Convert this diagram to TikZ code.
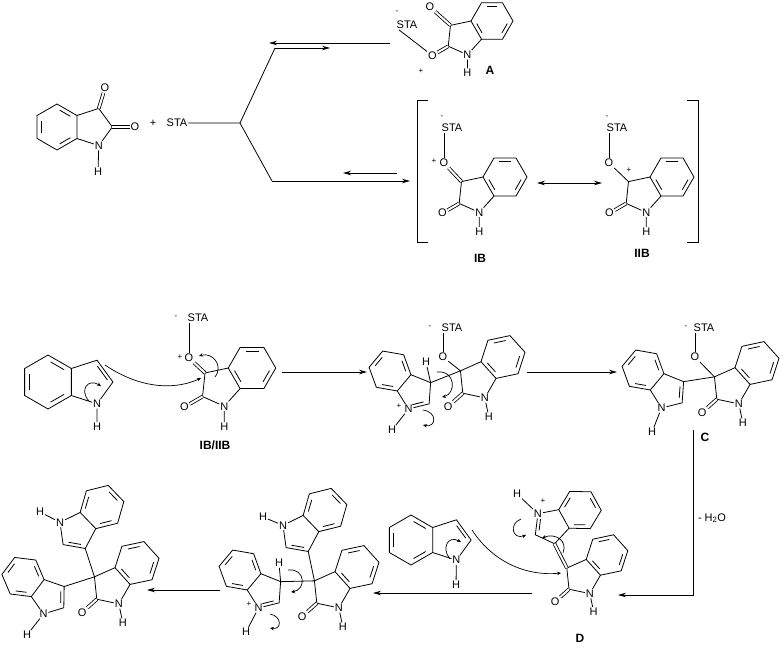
\documentclass[tikz,border=0pt]{standalone}
\usepackage{fontspec}
\setmainfont{Liberation Sans}
\usetikzlibrary{arrows.meta,calc}
\tikzset{>={Stealth[length=8pt,width=4.5pt]}}
\newcommand\chem{\fontsize{11}{12}\selectfont}
\newcommand\dbl[3]{\draw[bond,shorten <=2.5pt,shorten >=2.5pt] ($(#1)!4pt!(#3)$) -- ($(#2)!4pt!(#3)$);}
\tikzset{
  atom/.style={inner sep=0.8pt, font=\chem},
  chg/.style={inner sep=0pt, font=\fontsize{8}{9}\selectfont},
  lbl/.style={inner sep=0pt, font=\fontsize{12}{13}\selectfont\bfseries},
  bond/.style={line width=0.8pt},
  cO/.style={bond, double, double distance=2pt},
  rxn/.style={->, line width=0.8pt},
  curly/.style={->, >={Stealth[length=4pt,width=3.5pt]}, line width=0.7pt},
  oxi/.pic={
    \draw[bond] (0:25) -- (60:25) -- (120:25) -- (180:25) -- (240:25) -- (300:25) -- cycle;
    \foreach \a in {240,0,120} \draw[bond,shorten <=3pt,shorten >=3pt] (\a:20) -- (\a+60:20);
    \coordinate (-c3) at (-49.45,5.2);
    \coordinate (-c2) at (-52.06,30.06);
    \coordinate (-ctr) at (-33.65,19.43);
    \node[atom] (-n) at (-29.22,40.23) {N};
    \node[atom] (-h) at (-29.22,62) {H};
    \node[atom] (-o) at (-71.1,41.1) {O};
    \draw[bond] (180:25) -- (-c3) -- (-c2) -- (-n) -- (120:25);
    \draw[bond] (-n) -- (-h);
    \draw[cO] (-c2) -- (-o);
  },
  ind/.pic={
    \draw[bond] (30:25) -- (90:25) -- (150:25) -- (210:25) -- (270:25) -- (330:25) -- cycle;
    \foreach \a in {150,270,30} \draw[bond,shorten <=3pt,shorten >=3pt] (\a:20) -- (\a+60:20);
    \coordinate (-c3) at (45.4,-20.2);
    \coordinate (-c2) at (60.1,0);
    \coordinate (-ctr) at (38.85,0);
    \node[atom] (-n) at (45.4,20.2) {N};
    \draw[bond] (330:25) -- (-c3) -- (-c2) -- (-n) -- (30:25);
  }
}

\begin{document}
\begin{tikzpicture}[x=1pt,y=-1pt]
  \useasboundingbox (0,0) rectangle (781,649);

  % isatin + STA
  \pic[scale=0.92] (isa) at (57,127) {ind};
  \node[atom] (isaO3) at (105,88) {O};
  \node[atom] (isaO2) at (135,127) {O};
  \node[atom] (isaH) at (98,172) {H};
  \draw[cO] (isa-c3) -- (isaO3);
  \draw[cO] (isa-c2) -- (isaO2);
  \draw[bond] (isa-n) -- (isaH);
  \node[atom] (plus0) at (153,123) {+};
  \node[atom] (sta0) at (177,123) {STA};

  % forked equilibria
  \coordinate (fork) at (240,123);
  \coordinate (forkU) at (275,48);
  \coordinate (forkD) at (272,181);
  \coordinate (eqUa) at (330,48);
  \coordinate (eqUb) at (390,43);
  \coordinate (eqUc) at (269,43);
  \coordinate (eqDa) at (410,181);
  \coordinate (eqDb) at (397,173);
  \coordinate (eqDc) at (343,173);
  \draw[bond] (sta0) -- (fork) -- (forkU);
  \draw[bond] (fork) -- (forkD);
  \draw[rxn] (forkU) -- (eqUa);
  \draw[rxn] (eqUb) -- (eqUc);
  \draw[rxn] (forkD) -- (eqDa);
  \draw[rxn] (eqDb) -- (eqDc);

  % A
  \pic[scale=0.84] (pa) at (492,21) {oxi};
  \node[atom] (paO3) at (430,7) {O};
  \draw[cO] (pa-c3) -- (paO3);
  \node[atom] (staA) at (407,25) {STA};
  \node[chg] at (397,12) {-};
  \node[chg] at (421,71) {+};
  \draw[bond] ([xshift=-8pt]staA.south) -- (pa-o);
  \node[lbl] (labA) at (490,70) {A};

  % IB and IIB
  \draw[bond] (428,100) -- (417,100) -- (417,242) -- (428,242);
  \draw[bond] (687,100) -- (698,100) -- (698,242) -- (687,242);
  \pic[scale=0.88] (pb) at (505,177) {oxi};
  \node[atom] (pbO) at (444,163) {O};
  \node[chg] at (434,161) {+};
  \draw[cO] (pb-c3) -- (pbO);
  \node[atom] (staB) at (452,128) {STA};
  \node[chg] at (442,117) {-};
  \draw[bond] (staB.south -| pbO) -- (pbO);
  \node[lbl] (labIB) at (480,258) {IB};
  \draw[<->, line width=0.8pt] (537,183) -- (602,183);
  \pic[scale=0.88] (pc) at (672,177) {oxi};
  \node[atom] (pcO) at (609,163) {O};
  \node[chg] at (629,170) {+};
  \draw[bond] (pc-c3) -- (pcO);
  \node[atom] (staC) at (617,128) {STA};
  \node[chg] at (607,117) {-};
  \draw[bond] (staC.south -| pcO) -- (pcO);
  \node[lbl] (labIIB) at (642,253) {IIB};

  % row 2: indole attacks IB/IIB
  \pic[scale=1.08] (i1) at (48,382) {ind};
  \dbl{i1-c3}{i1-c2}{i1-ctr}
  \node[atom] (i1H) at (97,427) {H};
  \draw[bond] (i1-n) -- (i1H);
  \draw[curly] (89,401) .. controls (79,390) and (88,378) .. (101,386);
  \draw[curly] (105,365) .. controls (145,392) and (180,388) .. (201,378);
  \pic[scale=0.95] (p1) at (252,368) {oxi};
  \node[atom] (p1O) at (189,358) {O};
  \node[chg] at (180,357) {+};
  \draw[cO] (p1-c3) -- (p1O);
  \node[atom] (sta1) at (198,318) {STA};
  \node[chg] at (176,317) {-};
  \draw[bond] (sta1.south -| p1O) -- (p1O);
  \draw[curly] (215,377) .. controls (224,365) and (212,352) .. (199,356);
  \node[lbl] (labIBIIB) at (215,445) {IB/IIB};
  \coordinate (r2a) at (282,372);
  \coordinate (r2b) at (367,372);
  \draw[rxn] (r2a) -- (r2b);

  % first adduct
  \pic[scale=0.85,rotate=-40] (i2) at (390,371) {ind};
  \dbl{i2-n}{i2-c2}{i2-ctr}
  \node[atom] (i2H) at (426,362) {H};
  \draw[bond] (i2-c3) -- (i2H);
  \node[chg] at (399,406) {+};
  \node[atom] (i2HN) at (392,430) {H};
  \draw[bond] (i2-n) -- (i2HN);
  \pic[scale=0.9,rotate=12] (p2) at (503,357) {oxi};
  \draw[bond] (i2-c3) -- (p2-c3);
  \node[atom] (p2O) at (443,357) {O};
  \draw[bond] (p2-c3) -- (p2O);
  \node[atom] (sta2) at (452,328) {STA};
  \node[chg] at (430,327) {-};
  \draw[bond] (sta2.south -| p2O) -- (p2O);
  \draw[curly] (437,372) .. controls (456,370) and (456,394) .. (442,397);
  \draw[curly] (423,410) .. controls (438,412) and (436,428) .. (423,425);
  \coordinate (r3a) at (527,372);
  \coordinate (r3b) at (617,372);
  \draw[rxn] (r3a) -- (r3b);

  % C
  \pic[scale=0.85,rotate=-40] (i3) at (643,370) {ind};
  \dbl{i3-c3}{i3-c2}{i3-ctr}
  \node[atom] (i3H) at (652,432) {H};
  \draw[bond] (i3-n) -- (i3H);
  \pic[scale=0.9,rotate=12] (p3) at (757,363) {oxi};
  \draw[bond] (i3-c3) -- (p3-c3);
  \node[atom] (p3O) at (695,357) {O};
  \draw[bond] (p3-c3) -- (p3O);
  \node[atom] (sta3) at (704,328) {STA};
  \node[chg] at (686,327) {-};
  \draw[bond] (sta3.south -| p3O) -- (p3O);
  \node[lbl] (labC) at (705,437) {C};
  \coordinate (dw1) at (693,430);
  \coordinate (dw2) at (693,595);
  \coordinate (dw3) at (618,595);
  \draw[rxn] (dw1) -- (dw2) -- (dw3);
  \node[atom, anchor=west] (water) at (697,518) {- H\textsubscript{2}O};

  % D with second indole
  \pic[scale=0.85,rotate=12] (p4) at (607,555) {oxi};
  \pic[scale=0.85,rotate=-151] (i4) at (580,510) {ind};
  \dbl{i4-n}{i4-c2}{i4-ctr}
  \draw[cO] (i4-c3) -- (p4-c3);
  \node[chg] at (543,501) {+};
  \node[atom] (i4H) at (517,494) {H};
  \draw[bond] (i4-n) -- (i4H);
  \draw[curly] (521,519) .. controls (508,524) and (513,540) .. (526,535);
  \draw[curly] (563,553) .. controls (568,540) and (555,533) .. (542,538);
  \node[lbl] (labD) at (580,638) {D};
  \pic (i5) at (411,540) {ind};
  \dbl{i5-c3}{i5-c2}{i5-ctr}
  \node[atom] (i5H) at (456,585) {H};
  \draw[bond] (i5-n) -- (i5H);
  \draw[curly] (450,559) .. controls (441,548) and (448,535) .. (461,542);
  \draw[curly] (472,530) .. controls (495,565) and (530,576) .. (561,573);
  \coordinate (r4a) at (532,593);
  \coordinate (r4b) at (373,593);
  \draw[rxn] (r4a) -- (r4b);

  % second adduct
  \pic[scale=0.85,rotate=-40] (i6) at (240,570) {ind};
  \dbl{i6-n}{i6-c2}{i6-ctr}
  \node[atom] (i6H) at (279,563) {H};
  \draw[bond] (i6-c3) -- (i6H);
  \node[chg] at (249,604) {+};
  \node[atom] (i6HN) at (246,632) {H};
  \draw[bond] (i6-n) -- (i6HN);
  \pic[scale=0.9,rotate=12] (p5) at (357,567) {oxi};
  \draw[bond] (i6-c3) -- (p5-c3);
  \pic[scale=0.9,rotate=-136] (i7) at (325,510) {ind};
  \dbl{i7-c3}{i7-c2}{i7-ctr}
  \draw[bond] (i7-c3) -- (p5-c3);
  \node[atom] (i7H) at (263,517) {H};
  \draw[bond] (i7-n) -- (i7H);
  \draw[curly] (288,570) .. controls (306,568) and (306,590) .. (291,592);
  \draw[curly] (270,614) .. controls (282,616) and (282,630) .. (270,628);
  \coordinate (r5a) at (220,590);
  \coordinate (r5b) at (147,590);
  \draw[rxn] (r5a) -- (r5b);

  % final product
  \pic[scale=0.85,rotate=-37] (i8) at (23,577) {ind};
  \dbl{i8-c3}{i8-c2}{i8-ctr}
  \node[atom] (i8H) at (27,635) {H};
  \draw[bond] (i8-n) -- (i8H);
  \pic[scale=0.9,rotate=12] (p6) at (137,563) {oxi};
  \draw[bond] (i8-c3) -- (p6-c3);
  \pic[scale=0.9,rotate=-136] (i9) at (102,507) {ind};
  \dbl{i9-c3}{i9-c2}{i9-ctr}
  \draw[bond] (i9-c3) -- (p6-c3);
  \node[atom] (i9H) at (40,512) {H};
  \draw[bond] (i9-n) -- (i9H);
\end{tikzpicture}
\end{document}
